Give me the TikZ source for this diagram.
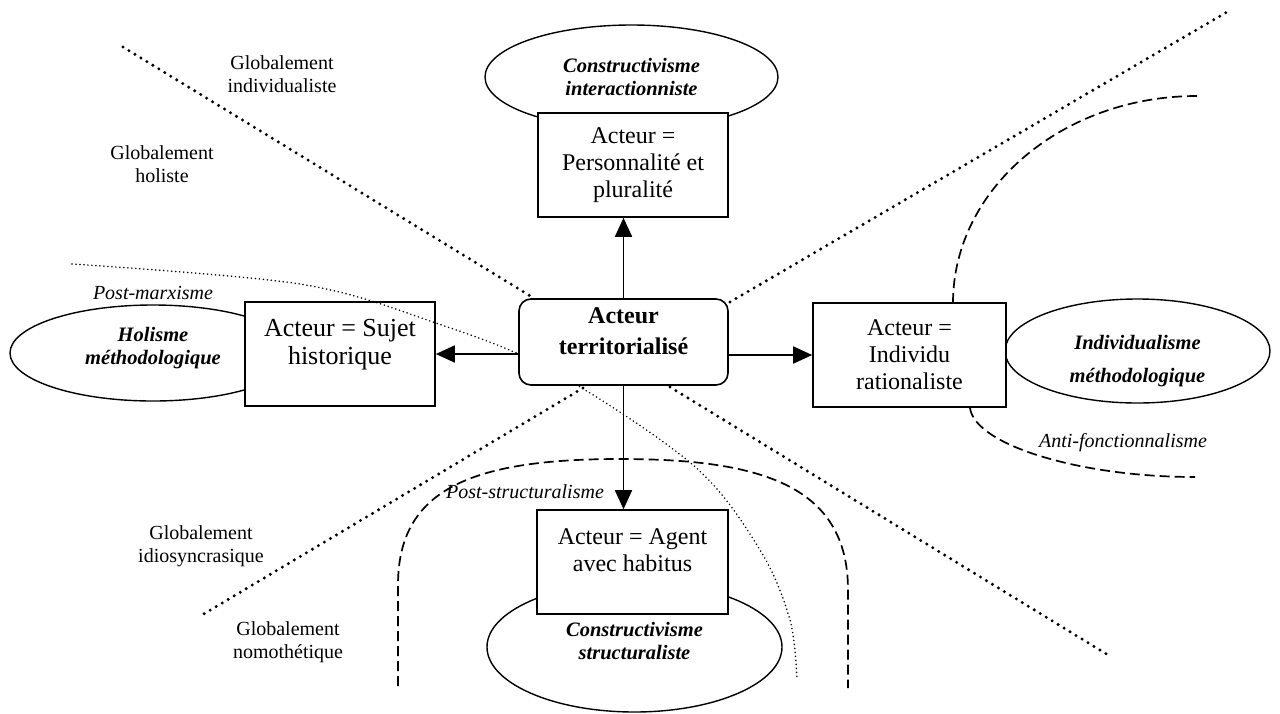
\documentclass[tikz,border=0pt]{standalone}
\usepackage{fontspec}
\setmainfont{Liberation Serif}
\usetikzlibrary{shapes.geometric,arrows.meta}
\begin{document}
\begin{tikzpicture}[x=1pt,y=-1pt,
  box/.style={draw, line width=1.6pt, fill=white, align=center, inner sep=0pt,
    font=\fontsize{24}{27}\selectfont},
  ctrbox/.style={draw, line width=1.6pt, fill=white, align=center, inner sep=0pt,
    rounded corners=12pt, font=\fontsize{24}{31}\selectfont\bfseries},
  oval/.style={draw, ellipse, line width=1.4pt, fill=white, align=center, inner sep=0pt,
    font=\fontsize{20.5}{23}\selectfont\bfseries\itshape},
  lab/.style={align=center, inner sep=0pt, font=\fontsize{20}{23}\selectfont},
  ilab/.style={inner sep=0pt, font=\fontsize{20}{23}\selectfont\itshape},
  heavydot/.style={line width=3.3pt, line cap=round, dash pattern=on 0pt off 7pt},
  thindot/.style={line width=1.7pt, line cap=round, dash pattern=on 0pt off 4pt},
  dashline/.style={line width=1.7pt, dash pattern=on 10pt off 5pt},
  arr/.style={line width=1.8pt, -{Triangle[length=19pt,width=17pt]}}
]
\useasboundingbox[fill=white] (0,0) rectangle (1280,713);

% free ends of the dividing lines
\coordinate (ulA) at (123,47);   \coordinate (ulB) at (532,297);
\coordinate (urA) at (730,302);  \coordinate (urB) at (1227,12);
\coordinate (llA) at (583,388);  \coordinate (llB) at (202,615);
\coordinate (lrA) at (670,387);  \coordinate (lrB) at (1108,655);

% heavy dotted dividing lines
\draw[heavydot] (ulA) -- (ulB);
\draw[heavydot] (urA) -- (urB);
\draw[heavydot] (llA) -- (llB);
\draw[heavydot] (lrA) -- (lrB);

% dashed curves
\coordinate (dA1) at (1197,96);  \coordinate (dA2) at (953,303);
\draw[dashline] (dA1) .. controls (1062,96) and (953,189) .. (dA2);
\coordinate (dB1) at (970,408);  \coordinate (dB2) at (1195,477);
\draw[dashline] (dB1) .. controls (975,445) and (1080,477) .. (dB2);
\coordinate (dC1) at (398,686);  \coordinate (dC2) at (848,688);
\draw[dashline] (dC1) -- (398,585) .. controls (398,490) and (470,459) .. (620,459)
  .. controls (760,459) and (848,485) .. (848,590) -- (dC2);

% ellipses
\node[oval, minimum width=293pt, minimum height=104pt] (eT) at (631.5,77)
  {Constructivisme\\interactionniste};
\node[oval, minimum width=286pt, minimum height=96pt] (eL) at (153,353)
  {Holisme\\méthodologique\\[-8pt]\mbox{}};
\node[oval, minimum width=265pt, minimum height=104pt] (eR) at (1137.5,351)
  {\mbox{}\\[12pt]Individualisme\\[10pt]méthodologique};
\node[oval, minimum width=295pt, minimum height=130pt] (eB) at (634.5,647)
  {Constructivisme\\structuraliste\\[-11pt]\mbox{}};

% boxes
\node[box, minimum width=190pt, minimum height=104pt] (bT) at (633,165)
  {Acteur =\\Personnalité et\\pluralité};
\node[box, minimum width=190pt, minimum height=104pt,
  font=\fontsize{26}{28}\selectfont] (bL) at (340,354)
  {Acteur = Sujet\\historique\\[-4pt]\mbox{}};
\node[box, minimum width=193pt, minimum height=104pt] (bR) at (909.5,355)
  {Acteur =\\Individu\\rationaliste};
\node[box, minimum width=191pt, minimum height=104pt] (bB) at (632.5,562)
  {Acteur = Agent\\avec habitus\\[-3pt]\mbox{}};

% thin dotted curve (post-marxisme)
\coordinate (tA) at (72,264);  \coordinate (tB) at (797,680);
\draw[thindot] plot[smooth, tension=0.55] coordinates
  {(tA) (300,284) (433,322) (551,370) (693,465) (760,550) (790,620) (tB)};

% centre box
\node[ctrbox, minimum width=209pt, minimum height=86pt] (ct) at (623.5,342)
  {Acteur\\territorialisé\\[-9pt]\mbox{}};

% arrows
\draw[arr] (ct.north) -- (ct.north |- bT.south);
\draw[arr] (ct.south) -- (ct.south |- bB.north);
\draw[arr] ([yshift=-12pt]ct.west) -- ([yshift=-12pt]ct.west -| bL.east);
\draw[arr] ([yshift=-13pt]ct.east) -- ([yshift=-13pt]ct.east -| bR.west);

% labels
\node[lab] (g1) at (282,74) {Globalement\\individualiste};
\node[lab] (g2) at (162,164) {Globalement\\holiste};
\node[lab] (g3) at (201,546) {Globalement\\idiosyncrasique};
\node[lab] (g4) at (288,642) {Globalement\\nomothétique};
\node[ilab] (pm) at (153,293) {Post-marxisme};
\node[ilab] (ps) at (525,492) {Post-structuralisme};
\node[ilab] (af) at (1123,443) {Anti-fonctionnalisme};
\end{tikzpicture}
\end{document}
